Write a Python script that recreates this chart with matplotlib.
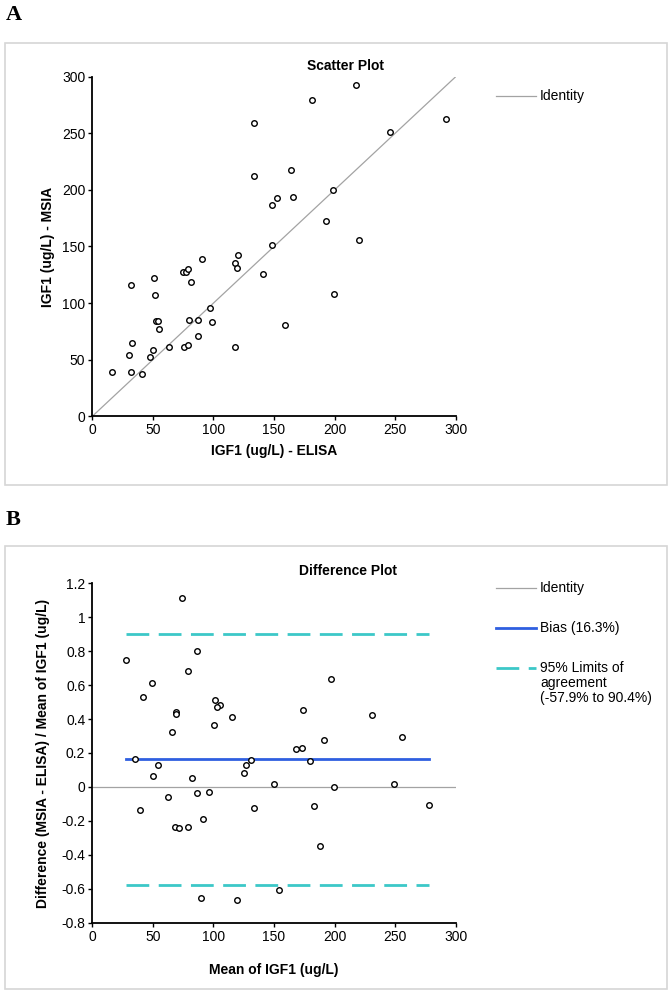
import matplotlib
matplotlib.use('Agg')
import matplotlib.pyplot as plt
from matplotlib.lines import Line2D
from matplotlib.patches import Rectangle

# A: scatter plot, ELISA vs MSIA (ug/L)
elisa = [133.6, 133.9, 164.0, 148.5, 152.4, 165.6, 148.5, 120.0, 90.6, 181.7,
         217.3, 291.8, 245.9, 198.5, 192.7, 220.0, 199.6, 117.6, 119.6, 141.3,
         74.5, 77.6, 79.0, 81.2, 32.3, 51.3, 51.7, 97.2, 52.5, 54.0,
         79.5, 87.3, 98.8, 158.7, 54.7, 87.5, 33.1, 63.2, 75.3, 78.6,
         117.6, 50.0, 47.8, 30.1, 16.6, 31.8, 41.2]
msia = [258.8, 212.5, 217.8, 186.7, 192.8, 194.0, 151.3, 142.5, 139.3, 279.4,
        293.0, 262.9, 250.9, 199.6, 172.8, 156.0, 108.0, 135.7, 131.0, 126.0,
        127.5, 127.5, 130.4, 118.6, 115.7, 121.9, 107.2, 95.4, 84.5, 84.5,
        85.1, 85.4, 83.3, 80.4, 77.4, 70.7, 64.5, 61.0, 61.0, 63.0,
        61.0, 58.6, 52.4, 54.2, 39.1, 39.1, 37.4]

# B: difference plot
mean_igf1 = [74.3, 86.7, 27.9, 79.2, 48.9, 42.2, 101.6, 105.2, 103.3, 69.0,
             69.3, 115.4, 100.2, 66.2, 35.6, 54.1, 50.0, 82.6, 62.1, 86.4,
             96.6, 39.4, 91.1, 68.2, 71.5, 79.2, 89.4, 119.6, 125.4, 127.0,
             131.4, 133.9, 149.9, 153.8, 167.8, 172.8, 191.3, 180.0, 183.0, 199.6,
             188.3, 249.2, 255.6, 278.2, 196.7, 173.6, 231.3]
rel_diff = [1.111, 0.802, 0.747, 0.684, 0.611, 0.532, 0.510, 0.481, 0.469, 0.441,
            0.432, 0.412, 0.363, 0.323, 0.164, 0.128, 0.063, 0.051, -0.057, -0.033,
            -0.029, -0.134, -0.187, -0.234, -0.240, -0.234, -0.653, -0.665, 0.083, 0.131,
            0.160, -0.126, 0.016, -0.606, 0.221, 0.231, 0.278, 0.152, -0.114, -0.002,
            -0.346, 0.016, 0.296, -0.106, 0.639, 0.451, 0.422]
bias = 0.163
loa_low = -0.579
loa_high = 0.904

W, H = 672, 996
GREY = '#a3a3a3'
BLUE = '#2f5fe0'
CYAN = '#3cc8c8'
SANS = ['Liberation Sans', 'DejaVu Sans']
SERIF = ['Liberation Serif', 'DejaVu Serif']

plt.rcParams['font.family'] = SANS


def fx(px):
    return px / W


def fy(py):
    return 1 - py / H


def style_axes(ax):
    for s in ['top', 'right']:
        ax.spines[s].set_visible(False)
    for s in ['left', 'bottom']:
        ax.spines[s].set_linewidth(1.3)
    ax.tick_params(direction='out', length=3, width=1, pad=2, labelsize=10)


fig = plt.figure(figsize=(W / 100, H / 100), dpi=100)

# panel frames and letters
for top, bot, letter, ly in [(43, 485, 'A', 15), (546, 989, 'B', 520)]:
    fig.patches.append(Rectangle((fx(5), fy(bot)), fx(667) - fx(5), fy(top) - fy(bot),
                                 transform=fig.transFigure, fill=False,
                                 edgecolor='#d6d6d6', linewidth=1.2))
    fig.text(fx(6), fy(ly), letter, family=SERIF, fontweight='bold',
             fontsize=16, va='center', ha='left')

# ---- A: scatter plot
ax1 = fig.add_axes([fx(92.3), fy(416.3), fx(455.7) - fx(92.3), fy(76.7) - fy(416.3)])
ax1.plot([0, 300], [0, 300], color=GREY, lw=0.9)
ax1.plot(elisa, msia, 'o', mfc='white', mec='black', ms=4, mew=1.0)
ax1.set_xlim(0, 300)
ax1.set_ylim(0, 300)
ax1.set_xticks(range(0, 301, 50))
ax1.set_yticks(range(0, 301, 50))
style_axes(ax1)
ax1.set_xlabel('IGF1 (ug/L) - ELISA', fontweight='bold', fontsize=10, labelpad=5)
ax1.set_ylabel('IGF1 (ug/L) - MSIA', fontweight='bold', fontsize=10, labelpad=5)
fig.text(fx(346), fy(66), 'Scatter Plot', fontweight='bold', fontsize=10,
         ha='center', va='center')

fig.add_artist(Line2D([fx(496), fx(536)], [fy(96), fy(96)], color=GREY, lw=0.9))
fig.text(fx(540), fy(96), 'Identity', fontsize=10, va='center')

# ---- B: difference plot
ax2 = fig.add_axes([fx(92.3), fy(922.7), fx(455.7) - fx(92.3), fy(583.3) - fy(922.7)])
ax2.plot([0, 300], [0, 0], color=GREY, lw=0.9)
xs = [min(mean_igf1), max(mean_igf1)]
ax2.plot(xs, [bias, bias], color=BLUE, lw=2.0)
ax2.plot(xs, [loa_high, loa_high], color=CYAN, lw=2.0, dashes=(8.2, 3.4))
ax2.plot(xs, [loa_low, loa_low], color=CYAN, lw=2.0, dashes=(8.2, 3.4))
ax2.plot(mean_igf1, rel_diff, 'o', mfc='white', mec='black', ms=4, mew=1.0)
ax2.set_xlim(0, 300)
ax2.set_ylim(-0.8, 1.2)
ax2.set_xticks(range(0, 301, 50))
yt = [-0.8, -0.6, -0.4, -0.2, 0, 0.2, 0.4, 0.6, 0.8, 1.0, 1.2]
ax2.set_yticks(yt)
ax2.set_yticklabels(['{:g}'.format(round(v, 1)) for v in yt])
style_axes(ax2)
ax2.set_ylabel('Difference (MSIA - ELISA) / Mean of IGF1 (ug/L)', fontweight='bold',
               fontsize=10, labelpad=8)
fig.text(fx(274), fy(970), 'Mean of IGF1 (ug/L)', fontweight='bold', fontsize=10,
         ha='center', va='center')
fig.text(fx(348), fy(571), 'Difference Plot', fontweight='bold', fontsize=10,
         ha='center', va='center')

fig.add_artist(Line2D([fx(496), fx(536)], [fy(588), fy(588)], color=GREY, lw=0.9))
fig.text(fx(540), fy(588), 'Identity', fontsize=10, va='center')
fig.add_artist(Line2D([fx(496), fx(536)], [fy(628), fy(628)], color=BLUE, lw=2.0))
fig.text(fx(540), fy(628), 'Bias (16.3%)', fontsize=10, va='center')
fig.add_artist(Line2D([fx(496), fx(536)], [fy(668), fy(668)], color=CYAN, lw=2.0,
                      dashes=(8.2, 3.4)))
fig.text(fx(540), fy(661), '95% Limits of\nagreement\n(-57.9% to 90.4%)', fontsize=10,
         va='top', linespacing=1.1)

fig.savefig('out.png', dpi=100)
